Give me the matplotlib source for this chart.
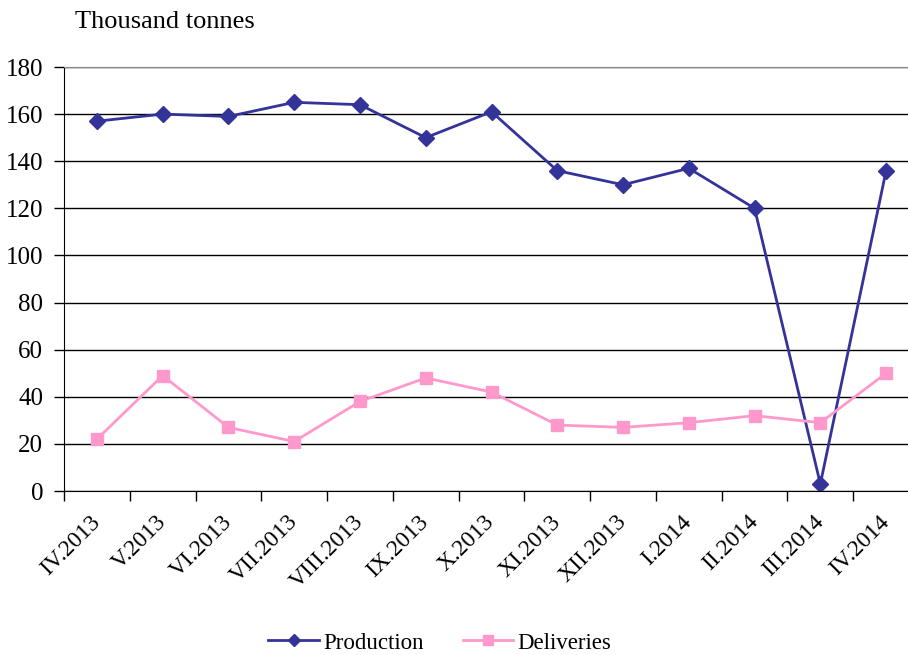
import matplotlib
matplotlib.use("Agg")
import matplotlib.pyplot as plt
from matplotlib.ticker import FixedLocator, NullFormatter

plt.rcParams['font.family'] = ['Liberation Serif', 'DejaVu Serif']

# Data
months = ['IV.2013', 'V.2013', 'VI.2013', 'VII.2013', 'VIII.2013', 'IX.2013', 'X.2013',
          'XI.2013', 'XII.2013', 'I.2014', 'II.2014', 'III.2014', 'IV.2014']
production = [157, 160, 159, 165, 164, 150, 161, 136, 130, 137, 120, 3, 136]
deliveries = [22, 49, 27, 21, 38, 48, 42, 28, 27, 29, 32, 29, 50]

fig = plt.figure(figsize=(9.08, 6.55), dpi=100)
# axes run slightly past the right edge like in the original picture
ax = fig.add_axes([64 / 908, 164 / 655, 855 / 908, 424 / 655])

x = list(range(len(months)))
ax.plot(x, production, color='#333399', marker='D', markersize=8, linewidth=2,
        label='Production')
ax.plot(x, deliveries, color='#FF99CC', marker='s', markersize=9, linewidth=2,
        label='Deliveries')

ax.set_xlim(-0.5, len(months) - 0.5)
ax.set_ylim(0, 180)
ax.set_yticks(range(0, 181, 20))
ax.yaxis.grid(True, color='black', linewidth=1)
ax.set_axisbelow(True)

# category labels centred, tick marks between categories
ax.set_xticks(x)
ax.set_xticklabels(months, rotation=45, ha='right', va='center',
                   rotation_mode='anchor', fontsize=17)
ax.tick_params(axis='x', which='major', length=0, pad=20)
ax.xaxis.set_minor_locator(FixedLocator([i - 0.5 for i in range(len(months) + 1)]))
ax.xaxis.set_minor_formatter(NullFormatter())
ax.tick_params(axis='x', which='minor', length=7, width=1, color='black')
ax.tick_params(axis='y', labelsize=18, length=7, width=1, pad=8)

ax.spines['top'].set_color('#888888')
ax.spines['right'].set_visible(False)
ax.spines['left'].set_color('black')
ax.spines['bottom'].set_color('black')

fig.text(75 / 908, 1 - 22 / 655, 'Thousand tonnes', fontsize=19, va='center', ha='left')

fig.legend(loc='center', bbox_to_anchor=(440 / 908, 1 - 643 / 655), ncol=2,
           frameon=False, fontsize=16.5, handlelength=2.2, columnspacing=1.7,
           handletextpad=0.2, markerscale=0.75)

fig.savefig('out.png', dpi=100)
